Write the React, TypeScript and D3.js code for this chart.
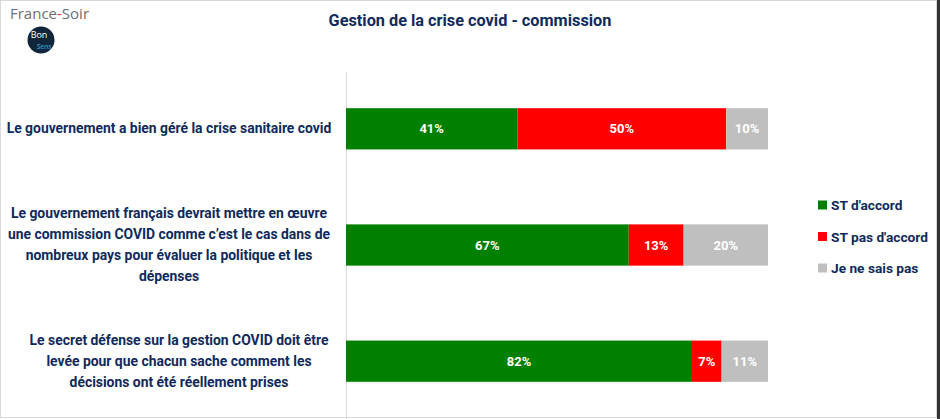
import React from "react";
import * as d3 from "d3";

const categories = [
  "Le gouvernement a bien géré la crise sanitaire covid",
  "Le gouvernement français devrait mettre en œuvre|une commission COVID comme c’est le cas dans de|nombreux pays pour évaluer la politique et les|dépenses",
  "Le secret défense sur la gestion COVID doit être|levée pour que chacun sache comment les|décisions ont été réellement prises",
];
const seriesNames = ["ST d'accord", "ST pas d'accord", "Je ne sais pas"];
const seriesColors = ["#008000", "#ff0000", "#bfbfbf"];
const accord = [40.6, 67, 82];
const pasAccord = [49.5, 13, 7];
const neSaisPas = [9.9, 20, 11];

const W = 940;
const H = 419;
const NAVY = "#102a5c";
const FONT = "Roboto, 'Noto Sans', sans-serif";

export default function App() {
  const x = d3.scaleLinear().domain([0, 100]).range([346, 768]);
  const y = d3.scaleBand().domain(categories).range([71, 419]).paddingInner(0.645).paddingOuter(0.32);
  const series = [accord, pasAccord, neSaisPas];
  const rows = categories.map((c, i) => {
    let acc = 0;
    return series.map((s, k) => {
      const x0 = acc;
      acc += s[i];
      return { k, x0, x1: acc, v: s[i] };
    });
  });
  const legendY = d3.scalePoint().domain(seriesNames).range([205, 268]);
  return (
    <svg width={W} height={H} style={{ position: "absolute", left: 0, top: 0, background: "#fff" }} fontFamily={FONT}>
      <rect x={0.5} y={0.5} width={936} height={417} fill="#fff" stroke="#d9d9d9" />
      <rect x={937} y={0} width={3} height={H} fill="#333" />
      {/* logo */}
      <text x={10} y={19} fontSize={15} fill="#6b6f75" fontFamily="'Open Sans', sans-serif">
        France<tspan fill="#e63329">-</tspan>Soir
      </text>
      <circle cx={41} cy={40} r={13.5} fill="#10243a" />
      <text x={39} y={38} fontSize={9} fill="#fff" textAnchor="middle" fontFamily="'Open Sans', sans-serif">Bon</text>
      <text x={44} y={48.5} fontSize={7.5} fill="#38b6e0" textAnchor="middle" fontStyle="italic" fontFamily="'Open Sans', sans-serif">Sens</text>
      <text x={470} y={26} fontSize={16.3} fontWeight="bold" fill={NAVY} textAnchor="middle">
        Gestion de la crise covid - commission
      </text>
      <line x1={346.5} x2={346.5} y1={72} y2={419} stroke="#d9d9d9" />
      {rows.map((r, i) => (
        <g key={i}>
          {r.map((seg) => (
            <g key={seg.k}>
              <rect x={x(seg.x0)} width={x(seg.x1) - x(seg.x0)} y={y(categories[i])} height={y.bandwidth()} fill={seriesColors[seg.k]} />
              <text x={(x(seg.x0) + x(seg.x1)) / 2} y={y(categories[i])! + y.bandwidth() / 2 + 4.5} fontSize={13} fontWeight="bold" fill="#fff" textAnchor="middle">
                {Math.round(seg.v)}%
              </text>
            </g>
          ))}
          {(() => {
            const lines = categories[i].split("|");
            const cy = y(categories[i])! + y.bandwidth() / 2;
            const lh = 21;
            return lines.map((l, j) => (
              <text key={j} x={lines.length > 1 ? 169 + (i === 2 ? 10 : 0) : 169} y={cy + (j - (lines.length - 1) / 2) * lh + 4.5} fontSize={13.9} fontWeight="bold" fill={NAVY} textAnchor="middle">
                {l}
              </text>
            ));
          })()}
        </g>
      ))}
      {seriesNames.map((n, k) => (
        <g key={n}>
          <rect x={818} y={legendY(n)! - 4.5} width={9} height={9} fill={seriesColors[k]} />
          <text x={831} y={legendY(n)! + 5} fontSize={13.7} fontWeight="bold" fill={NAVY}>{n}</text>
        </g>
      ))}
    </svg>
  );
}
